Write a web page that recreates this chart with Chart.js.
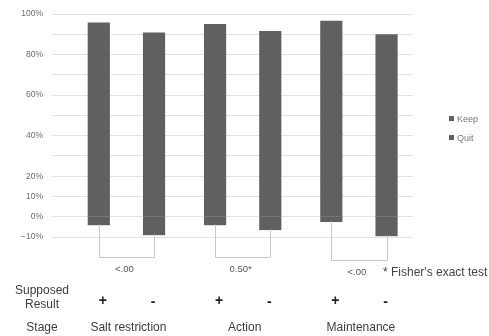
<!DOCTYPE html>
<html>
<head>
<meta charset="utf-8">
<script src="https://cdn.jsdelivr.net/npm/chart.js@4/dist/chart.umd.min.js"></script>
<style>
  html, body { margin: 0; padding: 0; background: #ffffff; }
  #wrap { width: 489px; height: 336px; position: relative; }
</style>
</head>
<body>
<div id="wrap"><canvas id="c" width="489" height="336"></canvas></div>
<script>
// ---- data ----
const stages = ['Salt restriction', 'Action', 'Maintenance'];
const seriesNames = ['Keep', 'Quit'];
const resultSigns = ['+', '-'];
const keepPlus = [95.5, 94.8, 96.4];
const quitPlus = [-3.9, -3.9, -2.3];
const keepMinus = [90.6, 91.4, 89.8];
const quitMinus = [-8.8, -6.3, -9.3];
const pValues = ['<.00', '0.50*', '<.00'];
const footnote = "* Fisher's exact test";
const rowLabels = ['Supposed', 'Result', 'Stage'];
const yTickLabels = [100, 80, 60, 40, 20, 10, 0, -10];

const FONT = "'Liberation Sans', Arial, sans-serif";
const BAR = '#606060';

function pts(arr) { return arr.map((v, i) => ({ x: i + 1, y: v })); }

const datasets = [
  { label: seriesNames[0], data: pts(keepPlus), stack: 'plus' },
  { label: seriesNames[1], data: pts(quitPlus), stack: 'plus' },
  { label: seriesNames[0], data: pts(keepMinus), stack: 'minus' },
  { label: seriesNames[1], data: pts(quitMinus), stack: 'minus' }
].map(d => Object.assign(d, {
  backgroundColor: BAR, borderWidth: 0, inflateAmount: 0.6,
  categoryPercentage: 0.95, barPercentage: 0.38
}));

const annot = {
  id: 'annot',
  afterDraw(chart) {
    const ctx = chart.ctx;
    const xs = chart.scales.x, ys = chart.scales.y;
    const ca = chart.chartArea;
    ctx.save();
    // brackets + p values
    const levels = [-20, -20, -21.4];
    for (let i = 0; i < stages.length; i++) {
      const a = chart.getDatasetMeta(1).data[i];
      const b = chart.getDatasetMeta(3).data[i];
      const yb = ys.getPixelForValue(levels[i]);
      ctx.strokeStyle = '#c9c9c9';
      ctx.lineWidth = 1;
      ctx.beginPath();
      ctx.moveTo(Math.round(a.x) + 0.5, a.y);
      ctx.lineTo(Math.round(a.x) + 0.5, Math.round(yb) + 0.5);
      ctx.lineTo(Math.round(b.x) + 0.5, Math.round(yb) + 0.5);
      ctx.lineTo(Math.round(b.x) + 0.5, b.y);
      ctx.stroke();
      ctx.fillStyle = '#555';
      ctx.font = '9.5px ' + FONT;
      ctx.textAlign = 'center';
      ctx.textBaseline = 'middle';
      ctx.fillText(pValues[i], (a.x + b.x) / 2 - 2, yb + 12);
      // signs
      ctx.fillStyle = '#222';
      ctx.font = 'bold 14px ' + FONT;
      ctx.fillText(resultSigns[0], a.x + 4, 301);
      ctx.fillText(resultSigns[1], b.x - 1, 302);
      // stage names
      ctx.fillStyle = '#3c3c3c';
      ctx.font = '12px ' + FONT;
      ctx.fillText(stages[i], xs.getPixelForValue(i + 1) + 2, 328);
    }
    // footnote
    ctx.fillStyle = '#444';
    ctx.font = '12px ' + FONT;
    ctx.textAlign = 'left';
    ctx.fillText(footnote, 383, 273);
    // row labels
    ctx.textAlign = 'center';
    ctx.fillStyle = '#3c3c3c';
    ctx.fillText(rowLabels[0], 42, 291);
    ctx.fillText(rowLabels[1], 42, 305);
    ctx.fillText(rowLabels[2], 42, 328);
    // legend
    const midY = (ca.top + ca.bottom) / 2;
    ctx.font = '9px ' + FONT;
    ctx.textAlign = 'left';
    seriesNames.forEach((n, k) => {
      const cy = midY - 7 + k * 19;
      ctx.fillStyle = BAR;
      ctx.fillRect(ca.right + 36, cy - 2.5, 5, 5);
      ctx.fillStyle = '#777';
      ctx.fillText(n, ca.right + 44, cy + 0.5);
    });
    ctx.restore();
  }
};

new Chart(document.getElementById('c'), {
  type: 'bar',
  data: { datasets },
  plugins: [annot],
  options: {
    responsive: false,
    animation: false,
    devicePixelRatio: 1,
    layout: { padding: { top: 10, bottom: 99, left: 0, right: 76 } },
    plugins: { legend: { display: false }, tooltip: { enabled: false } },
    scales: {
      x: {
        type: 'linear', display: false, offset: false,
        min: 0.36, max: 3.465,
        afterBuildTicks: s => { s.ticks = stages.map((_, i) => ({ value: i + 1 })); },
        grid: { display: false }
      },
      y: {
        stacked: true, min: -10, max: 100,
        border: { display: false },
        grid: { color: '#e2e2e2', lineWidth: 1, drawTicks: false },
        afterFit: s => { s.width = 52; },
        ticks: {
          stepSize: 10, padding: 9, color: '#6b6b6b',
          font: { family: FONT, size: 8.5 },
          callback: v => yTickLabels.includes(v) ? (v < 0 ? '\u2212' + Math.abs(v) : v) + '%' : ''
        }
      }
    }
  }
});
</script>
</body>
</html>
